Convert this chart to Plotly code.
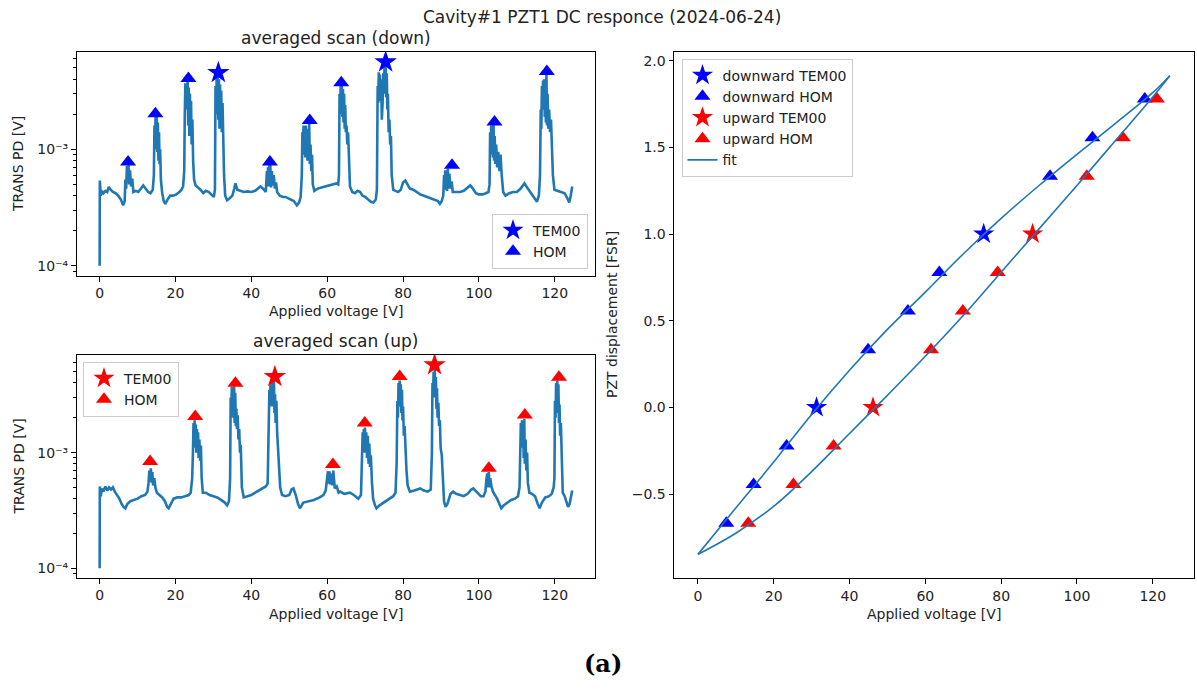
import plotly.graph_objects as go

W, H = 1197, 691
FONT = "DejaVu Sans"
TXT = "#222222"
C0 = "#1f77b4"

# ---------------- averaged scans: (applied voltage [V], TRANS PD [V]) ----------------
down_scan = [
    (0.0, 1.0e-4), (0.05, 5.4e-4), (0.3, 4.0e-4), (0.6, 4.4e-4), (1.0, 4.2e-4), (1.5, 4.4e-4),
    (2.0, 4.3e-4), (2.4, 4.75e-4), (2.9, 4.5e-4), (3.5, 4.3e-4), (4.2, 4.2e-4), (4.9, 4.0e-4),
    (5.6, 3.7e-4), (6.2, 3.3e-4), (6.6, 3.6e-4), (6.8, 5.5e-4), (7.0, 4.6e-4), (7.2, 7.2e-4),
    (7.4, 5.2e-4), (7.6, 7.5e-4), (7.8, 5.0e-4), (8.0, 6.6e-4), (8.3, 4.8e-4), (8.6, 5.6e-4),
    (8.9, 4.3e-4), (9.5, 4.4e-4), (10.2, 4.3e-4), (10.8, 4.6e-4), (11.5, 4.9e-4), (12.1, 4.6e-4),
    (12.8, 4.3e-4), (13.4, 4.2e-4), (14.0, 4.5e-4), (14.3, 6.0e-4), (14.45, 1.6e-3), (14.6, 1.0e-3),
    (14.75, 1.95e-3), (14.9, 1.1e-3), (15.05, 1.9e-3), (15.2, 9.5e-4), (15.35, 1.7e-3), (15.5, 8.0e-4),
    (15.65, 1.4e-3), (15.8, 7.5e-4), (15.95, 1.0e-3), (16.15, 5.5e-4), (16.5, 4.2e-4), (16.9, 3.6e-4),
    (17.3, 3.4e-4), (17.9, 3.7e-4), (18.6, 4.0e-4), (19.4, 4.0e-4), (20.2, 4.1e-4), (21.0, 4.3e-4),
    (21.6, 4.5e-4), (22.0, 4.8e-4), (22.3, 6.5e-4), (22.45, 2.0e-3), (22.6, 3.7e-3), (22.75, 2.2e-3),
    (22.9, 3.5e-3), (23.05, 2.5e-3), (23.2, 3.9e-3), (23.35, 1.6e-3), (23.5, 3.4e-3), (23.65, 1.3e-3),
    (23.8, 3.0e-3), (23.95, 1.5e-3), (24.1, 2.6e-3), (24.25, 1.1e-3), (24.45, 1.8e-3), (24.65, 8.0e-4),
    (24.9, 5.5e-4), (25.3, 4.9e-4), (26.0, 4.7e-4), (26.6, 4.5e-4), (27.3, 4.2e-4), (28.0, 4.4e-4),
    (28.8, 4.3e-4), (29.5, 4.1e-4), (30.1, 3.9e-4), (30.4, 4.5e-4), (30.55, 3.5e-3), (30.7, 2.0e-3),
    (30.85, 4.1e-3), (31.0, 2.2e-3), (31.15, 4.3e-3), (31.3, 1.8e-3), (31.45, 4.0e-3), (31.6, 1.5e-3),
    (31.75, 3.6e-3), (31.9, 1.7e-3), (32.05, 3.2e-3), (32.2, 1.4e-3), (32.4, 2.5e-3), (32.6, 1.0e-3),
    (32.8, 6.0e-4), (33.1, 4.0e-4), (33.6, 3.65e-4), (34.3, 3.8e-4), (35.0, 4.0e-4), (35.5, 4.6e-4),
    (35.8, 5.1e-4), (36.3, 4.5e-4), (37.1, 4.4e-4), (38.0, 4.3e-4), (39.0, 4.35e-4), (40.0, 4.3e-4),
    (41.0, 4.4e-4), (41.8, 4.6e-4), (42.4, 4.8e-4), (43.1, 4.6e-4), (43.8, 4.3e-4), (44.1, 6.5e-4),
    (44.25, 5.0e-4), (44.4, 7.0e-4), (44.55, 4.8e-4), (44.7, 7.3e-4), (44.85, 5.0e-4), (45.0, 7.4e-4),
    (45.2, 4.7e-4), (45.4, 6.5e-4), (45.65, 4.9e-4), (45.9, 6.0e-4), (46.2, 4.6e-4), (46.5, 5.2e-4),
    (46.8, 4.3e-4), (47.5, 4.0e-4), (48.3, 3.9e-4), (49.0, 3.9e-4), (49.8, 3.8e-4), (50.5, 3.7e-4),
    (51.2, 3.6e-4), (52.0, 3.3e-4), (52.6, 3.5e-4), (53.0, 3.9e-4), (53.3, 6.0e-4), (53.45, 1.4e-3),
    (53.6, 9.0e-4), (53.75, 1.6e-3), (53.9, 1.0e-3), (54.05, 1.55e-3), (54.2, 8.5e-4), (54.35, 1.6e-3),
    (54.5, 9.5e-4), (54.65, 1.5e-3), (54.8, 8.0e-4), (54.95, 1.4e-3), (55.1, 1.0e-3), (55.25, 1.7e-3),
    (55.4, 7.5e-4), (55.6, 1.1e-3), (55.8, 6.5e-4), (56.0, 9.0e-4), (56.2, 5.0e-4), (56.6, 4.4e-4),
    (57.5, 4.6e-4), (58.5, 4.7e-4), (59.5, 4.8e-4), (60.5, 4.9e-4), (61.5, 5.0e-4), (62.4, 5.1e-4),
    (62.9, 5.0e-4), (63.1, 6.0e-4), (63.25, 3.0e-3), (63.4, 2.0e-3), (63.55, 3.6e-3), (63.7, 2.2e-3),
    (63.85, 3.5e-3), (64.0, 1.9e-3), (64.15, 3.3e-3), (64.3, 1.7e-3), (64.45, 3.0e-3), (64.6, 1.5e-3),
    (64.75, 2.4e-3), (64.9, 1.4e-3), (65.1, 1.6e-3), (65.3, 1.1e-3), (65.5, 1.4e-3), (65.7, 7.0e-4),
    (66.0, 4.8e-4), (66.6, 4.3e-4), (67.3, 4.2e-4), (68.0, 4.4e-4), (68.7, 4.3e-4), (69.3, 4.0e-4),
    (70.0, 3.9e-4), (70.8, 3.7e-4), (71.5, 3.55e-4), (72.2, 3.5e-4), (72.8, 3.7e-4), (73.1, 4.5e-4),
    (73.3, 3.5e-3), (73.45, 2.5e-3), (73.6, 4.6e-3), (73.75, 3.0e-3), (73.9, 4.4e-3), (74.05, 2.6e-3),
    (74.2, 4.0e-3), (74.4, 1.8e-3), (74.6, 2.5e-3), (74.8, 4.5e-3), (74.95, 3.0e-3), (75.1, 5.1e-3),
    (75.25, 3.2e-3), (75.4, 5.4e-3), (75.55, 2.8e-3), (75.7, 4.5e-3), (75.85, 2.2e-3), (76.0, 3.0e-3),
    (76.2, 1.4e-3), (76.4, 1.8e-3), (76.6, 1.1e-3), (76.8, 1.3e-3), (77.0, 6.0e-4), (77.4, 4.5e-4),
    (78.0, 4.4e-4), (78.7, 4.3e-4), (79.4, 4.5e-4), (80.0, 5.2e-4), (80.6, 5.4e-4), (81.2, 5.0e-4),
    (81.8, 4.6e-4), (82.7, 4.5e-4), (83.6, 4.3e-4), (84.5, 4.1e-4), (85.5, 4.0e-4), (86.5, 3.9e-4),
    (87.5, 3.8e-4), (88.5, 3.7e-4), (89.2, 3.6e-4), (89.7, 3.4e-4), (90.2, 3.6e-4), (90.6, 4.0e-4),
    (90.8, 6.0e-4), (90.95, 4.6e-4), (91.1, 6.6e-4), (91.25, 4.5e-4), (91.4, 6.5e-4), (91.6, 4.4e-4),
    (91.8, 6.8e-4), (92.0, 4.6e-4), (92.2, 6.2e-4), (92.5, 4.6e-4), (92.8, 5.3e-4), (93.1, 4.3e-4),
    (94.0, 4.3e-4), (95.0, 4.3e-4), (96.0, 4.4e-4), (97.0, 4.7e-4), (97.7, 4.9e-4), (98.4, 4.6e-4),
    (99.2, 4.2e-4), (100.0, 4.1e-4), (101.0, 4.1e-4), (101.8, 4.2e-4), (102.5, 4.3e-4), (102.8, 5.0e-4),
    (102.95, 1.4e-3), (103.1, 9.0e-4), (103.25, 1.6e-3), (103.4, 1.0e-3), (103.55, 1.55e-3), (103.7, 8.5e-4),
    (103.85, 1.65e-3), (104.0, 8.0e-4), (104.15, 1.3e-3), (104.35, 7.5e-4), (104.55, 1.1e-3), (104.8, 7.0e-4),
    (105.1, 9.5e-4), (105.4, 6.5e-4), (105.7, 9.0e-4), (106.0, 6.0e-4), (106.4, 4.3e-4), (107.0, 4.0e-4),
    (108.0, 4.2e-4), (109.0, 4.3e-4), (110.0, 4.3e-4), (111.0, 4.6e-4), (112.0, 5.1e-4), (112.7, 4.7e-4),
    (113.5, 4.3e-4), (114.5, 3.9e-4), (115.3, 3.55e-4), (115.8, 4.0e-4), (116.1, 6.0e-4), (116.3, 2.2e-3),
    (116.45, 1.5e-3), (116.6, 3.5e-3), (116.75, 2.2e-3), (116.9, 3.9e-3), (117.05, 2.4e-3), (117.2, 4.0e-3),
    (117.35, 1.9e-3), (117.5, 3.6e-3), (117.65, 1.7e-3), (117.8, 4.4e-3), (117.95, 1.6e-3), (118.1, 3.0e-3),
    (118.3, 1.5e-3), (118.5, 2.2e-3), (118.75, 1.4e-3), (119.0, 1.8e-3), (119.25, 1.0e-3), (119.5, 6.0e-4),
    (119.9, 4.5e-4), (120.8, 4.4e-4), (121.8, 4.3e-4), (122.6, 4.2e-4), (123.3, 3.8e-4), (123.8, 3.5e-4),
    (124.2, 4.0e-4), (124.6, 4.8e-4),
]

up_scan = [
    (0.0, 1.0e-4), (0.05, 5.1e-4), (0.3, 4.2e-4), (0.6, 4.9e-4), (1.0, 4.6e-4), (1.5, 5.1e-4),
    (2.0, 4.7e-4), (2.5, 5.0e-4), (3.0, 4.8e-4), (3.5, 5.0e-4), (4.0, 4.6e-4), (4.6, 4.3e-4),
    (5.2, 4.0e-4), (5.8, 3.6e-4), (6.3, 3.4e-4), (6.8, 3.3e-4), (7.3, 3.6e-4), (8.1, 3.8e-4),
    (9.0, 3.9e-4), (10.0, 4.0e-4), (11.0, 4.2e-4), (12.0, 4.3e-4), (12.6, 4.6e-4), (12.9, 5.5e-4),
    (13.1, 7.0e-4), (13.3, 5.6e-4), (13.5, 7.3e-4), (13.7, 5.5e-4), (13.9, 6.8e-4), (14.1, 5.2e-4),
    (14.4, 6.0e-4), (14.7, 5.0e-4), (15.1, 4.5e-4), (15.8, 4.3e-4), (16.5, 4.1e-4), (17.2, 3.8e-4),
    (17.8, 3.4e-4), (18.2, 3.3e-4), (18.8, 3.6e-4), (19.5, 4.0e-4), (20.5, 4.1e-4), (21.5, 4.1e-4),
    (22.5, 4.2e-4), (23.5, 4.3e-4), (24.0, 4.5e-4), (24.4, 6.0e-4), (24.6, 1.0e-3), (24.75, 1.8e-3),
    (24.9, 1.1e-3), (25.05, 1.9e-3), (25.2, 1.2e-3), (25.35, 1.75e-3), (25.5, 1.0e-3), (25.65, 1.6e-3),
    (25.8, 1.0e-3), (25.95, 1.5e-3), (26.1, 9.0e-4), (26.3, 1.3e-3), (26.5, 8.5e-4), (26.7, 1.15e-3),
    (26.9, 6.0e-4), (27.2, 4.5e-4), (28.0, 4.5e-4), (29.0, 4.3e-4), (30.0, 4.2e-4), (31.0, 4.1e-4),
    (32.0, 3.9e-4), (33.0, 3.7e-4), (33.6, 3.5e-4), (34.1, 3.8e-4), (34.4, 6.0e-4), (34.55, 3.0e-3),
    (34.7, 2.0e-3), (34.85, 3.7e-3), (35.0, 2.2e-3), (35.15, 3.6e-3), (35.3, 2.0e-3), (35.45, 3.75e-3),
    (35.6, 1.8e-3), (35.75, 3.3e-3), (35.9, 1.7e-3), (36.05, 2.4e-3), (36.2, 1.6e-3), (36.4, 2.1e-3),
    (36.6, 1.3e-3), (36.8, 1.6e-3), (37.0, 1.0e-3), (37.2, 1.17e-3), (37.5, 5.0e-4), (38.0, 4.1e-4),
    (39.0, 4.2e-4), (40.0, 4.3e-4), (41.0, 4.5e-4), (42.0, 4.7e-4), (43.0, 4.9e-4), (43.8, 5.1e-4),
    (44.3, 5.4e-4), (44.6, 1.5e-3), (44.75, 3.5e-3), (44.9, 2.5e-3), (45.05, 3.85e-3), (45.2, 2.7e-3),
    (45.35, 4.0e-3), (45.5, 2.5e-3), (45.65, 4.1e-3), (45.8, 2.6e-3), (45.95, 4.2e-3), (46.1, 2.2e-3),
    (46.25, 3.2e-3), (46.4, 1.8e-3), (46.6, 2.8e-3), (46.8, 1.5e-3), (47.0, 1.2e-3), (47.3, 7.0e-4),
    (47.6, 5.0e-4), (48.1, 4.3e-4), (49.0, 4.2e-4), (50.0, 4.3e-4), (50.6, 4.8e-4), (51.1, 4.9e-4),
    (51.7, 4.3e-4), (52.3, 3.6e-4), (52.8, 3.3e-4), (53.7, 3.7e-4), (55.0, 3.8e-4), (56.5, 3.9e-4),
    (58.0, 4.1e-4), (59.0, 4.3e-4), (59.6, 4.7e-4), (60.0, 6.0e-4), (60.2, 6.9e-4), (60.4, 5.4e-4),
    (60.6, 6.9e-4), (60.8, 5.3e-4), (61.0, 6.6e-4), (61.3, 5.2e-4), (61.6, 7.0e-4), (62.0, 4.9e-4),
    (62.5, 5.1e-4), (63.0, 4.5e-4), (63.4, 4.6e-4), (64.5, 4.4e-4), (65.5, 4.5e-4), (66.0, 4.5e-4),
    (67.0, 4.3e-4), (68.2, 4.0e-4), (68.9, 4.3e-4), (69.2, 1.1e-3), (69.35, 1.5e-3), (69.5, 1.0e-3),
    (69.65, 1.6e-3), (69.8, 1.1e-3), (69.95, 1.65e-3), (70.1, 1.0e-3), (70.3, 1.5e-3), (70.5, 9.0e-4),
    (70.7, 1.4e-3), (70.9, 8.0e-4), (71.1, 1.2e-3), (71.3, 7.5e-4), (71.5, 9.5e-4), (71.8, 5.5e-4),
    (72.1, 4.0e-4), (72.6, 3.5e-4), (73.0, 3.3e-4), (73.8, 3.5e-4), (75.0, 3.7e-4), (76.5, 4.0e-4),
    (77.4, 4.2e-4), (78.0, 4.5e-4), (78.3, 8.0e-4), (78.5, 2.8e-3), (78.65, 2.0e-3), (78.8, 4.0e-3),
    (78.95, 2.5e-3), (79.1, 4.2e-3), (79.25, 2.8e-3), (79.4, 3.9e-3), (79.55, 2.2e-3), (79.7, 3.5e-3),
    (79.85, 1.9e-3), (80.0, 2.5e-3), (80.2, 1.4e-3), (80.4, 1.7e-3), (80.6, 1.0e-3), (80.9, 7.0e-4),
    (81.2, 5.2e-4), (81.8, 4.6e-4), (83.0, 4.7e-4), (84.0, 4.8e-4), (84.5, 4.9e-4), (85.5, 4.7e-4),
    (86.5, 4.6e-4), (87.3, 4.8e-4), (87.6, 1.0e-3), (87.75, 4.0e-3), (87.9, 3.0e-3), (88.05, 5.0e-3),
    (88.2, 3.5e-3), (88.35, 5.3e-3), (88.5, 3.0e-3), (88.65, 4.5e-3), (88.8, 2.4e-3), (88.95, 3.6e-3),
    (89.1, 2.0e-3), (89.3, 2.7e-3), (89.5, 1.7e-3), (89.7, 1.9e-3), (89.9, 1.1e-3), (90.2, 9.5e-4),
    (90.5, 5.5e-4), (90.8, 3.8e-4), (91.2, 3.4e-4), (91.7, 3.6e-4), (92.5, 4.4e-4), (93.2, 4.6e-4),
    (94.0, 4.4e-4), (95.0, 4.3e-4), (96.0, 4.2e-4), (97.0, 4.4e-4), (98.0, 4.8e-4), (98.5, 4.9e-4),
    (99.5, 4.5e-4), (100.5, 4.2e-4), (101.2, 4.2e-4), (101.7, 4.6e-4), (102.0, 6.0e-4), (102.2, 6.6e-4),
    (102.4, 5.0e-4), (102.6, 6.8e-4), (102.8, 5.0e-4), (103.0, 6.0e-4), (103.3, 5.1e-4), (103.7, 4.6e-4),
    (104.2, 4.3e-4), (104.8, 4.0e-4), (105.4, 3.6e-4), (105.9, 3.3e-4), (106.5, 3.5e-4), (107.5, 3.7e-4),
    (108.5, 3.9e-4), (109.5, 4.0e-4), (110.3, 4.2e-4), (110.7, 5.0e-4), (110.9, 1.2e-3), (111.05, 1.8e-3),
    (111.2, 1.2e-3), (111.35, 1.9e-3), (111.5, 1.1e-3), (111.65, 1.75e-3), (111.8, 9.0e-4), (111.95, 1.95e-3),
    (112.1, 8.0e-4), (112.3, 1.3e-3), (112.5, 7.0e-4), (112.7, 1.0e-3), (112.9, 5.5e-4), (113.3, 4.5e-4),
    (114.0, 4.4e-4), (114.8, 4.2e-4), (115.5, 3.6e-4), (116.0, 3.3e-4), (116.6, 3.7e-4), (117.5, 4.1e-4),
    (118.5, 4.2e-4), (119.2, 4.4e-4), (119.7, 5.0e-4), (119.9, 6.0e-4), (120.05, 2.8e-3), (120.2, 2.0e-3),
    (120.35, 4.0e-3), (120.5, 2.6e-3), (120.65, 4.2e-3), (120.8, 2.2e-3), (120.95, 3.9e-3), (121.1, 1.8e-3),
    (121.25, 2.6e-3), (121.4, 1.4e-3), (121.6, 1.8e-3), (121.8, 9.0e-4), (122.1, 4.5e-4), (122.6, 4.2e-4),
    (123.1, 3.8e-4), (123.5, 3.4e-4), (123.9, 3.6e-4), (124.3, 4.2e-4), (124.6, 4.7e-4),
]

# ---------------- resonances picked on each scan ----------------
down_tem_v = [31.3, 75.4]
down_tem_pd = [4.55e-3, 5.62e-3]
down_hom_v = [7.5, 14.7, 23.4, 44.9, 55.4, 63.7, 92.9, 104.1, 117.9]
down_hom_pd = [7.8e-4, 2.02e-3, 4.05e-3, 7.8e-4, 1.77e-3, 3.73e-3, 7.3e-4, 1.72e-3, 4.65e-3]

up_tem_v = [46.2, 88.3]
up_tem_pd = [4.54e-3, 5.73e-3]
up_hom_v = [13.3, 25.2, 35.8, 61.5, 69.9, 79.1, 102.6, 112.1, 121.1]
up_hom_pd = [8.4e-4, 2.05e-3, 3.98e-3, 7.9e-4, 1.8e-3, 4.54e-3, 7.33e-4, 2.12e-3, 4.48e-3]

# displacement assigned to each resonance [FSR]
tem_disp = [0.0, 1.0]
hom_disp = [-0.667, -0.444, -0.222, 0.333, 0.556, 0.778, 1.333, 1.556, 1.778]

# hysteresis fit, one branch per sweep direction
fit_v = [0, 10, 20, 30, 40, 50, 60, 70, 80, 90, 100, 110, 120, 124.5]
fit_down = [-0.847, -0.58, -0.315, -0.04, 0.215, 0.45, 0.665, 0.885, 1.09, 1.28, 1.46, 1.635, 1.815, 1.913]
fit_up = [-0.847, -0.725, -0.57, -0.37, -0.15, 0.07, 0.295, 0.53, 0.78, 1.03, 1.28, 1.535, 1.79, 1.913]

# tick positions and labels
log_major = [1e-4, 1e-3]
log_major_text = ["10\u207b\u2074", "10\u207b\u00b3"]
log_minor = [9e-5] + [k * 1e-4 for k in range(2, 10)] + [k * 1e-3 for k in range(2, 7)]
volt_ticks = [0, 20, 40, 60, 80, 100, 120]
disp_ticks = [-0.5, 0.0, 0.5, 1.0, 1.5, 2.0]
disp_text = ["\u22120.5", "0.0", "0.5", "1.0", "1.5", "2.0"]

down_v, down_pd = [p[0] for p in down_scan], [p[1] for p in down_scan]
up_v, up_pd = [p[0] for p in up_scan], [p[1] for p in up_scan]


def px(x):
    return x / W


def py(y):
    return 1 - y / H


fig = go.Figure()

# --- top left: downward scan ---
fig.add_trace(go.Scatter(x=down_v, y=down_pd, mode="lines", line=dict(color=C0, width=2.6),
                         showlegend=False, xaxis="x", yaxis="y"))
fig.add_trace(go.Scatter(x=down_tem_v, y=down_tem_pd, mode="markers", name="TEM00",
                         marker=dict(symbol="star", size=17, color="blue", line=dict(width=0)),
                         xaxis="x", yaxis="y", legend="legend"))
fig.add_trace(go.Scatter(x=down_hom_v, y=down_hom_pd, mode="markers", name="HOM",
                         marker=dict(symbol="triangle-up", size=14, color="blue", line=dict(width=0)),
                         xaxis="x", yaxis="y", legend="legend"))

# --- bottom left: upward scan ---
fig.add_trace(go.Scatter(x=up_v, y=up_pd, mode="lines", line=dict(color=C0, width=2.6),
                         showlegend=False, xaxis="x2", yaxis="y2"))
fig.add_trace(go.Scatter(x=up_tem_v, y=up_tem_pd, mode="markers", name="TEM00",
                         marker=dict(symbol="star", size=17, color="red", line=dict(width=0)),
                         xaxis="x2", yaxis="y2", legend="legend2"))
fig.add_trace(go.Scatter(x=up_hom_v, y=up_hom_pd, mode="markers", name="HOM",
                         marker=dict(symbol="triangle-up", size=14, color="red", line=dict(width=0)),
                         xaxis="x2", yaxis="y2", legend="legend2"))

# --- right: displacement vs voltage ---
fig.add_trace(go.Scatter(x=down_tem_v, y=tem_disp, mode="markers", name="downward TEM00",
                         marker=dict(symbol="star", size=16, color="blue", line=dict(width=0)),
                         xaxis="x3", yaxis="y3", legend="legend3"))
fig.add_trace(go.Scatter(x=down_hom_v, y=hom_disp, mode="markers", name="downward HOM",
                         marker=dict(symbol="triangle-up", size=14, color="blue", line=dict(width=0)),
                         xaxis="x3", yaxis="y3", legend="legend3"))
fig.add_trace(go.Scatter(x=up_tem_v, y=tem_disp, mode="markers", name="upward TEM00",
                         marker=dict(symbol="star", size=16, color="red", line=dict(width=0)),
                         xaxis="x3", yaxis="y3", legend="legend3"))
fig.add_trace(go.Scatter(x=up_hom_v, y=hom_disp, mode="markers", name="upward HOM",
                         marker=dict(symbol="triangle-up", size=14, color="red", line=dict(width=0)),
                         xaxis="x3", yaxis="y3", legend="legend3"))
fig.add_trace(go.Scatter(x=fit_v, y=fit_down, mode="lines", name="fit",
                         line=dict(color=C0, width=1.6, shape="spline", smoothing=1.0),
                         xaxis="x3", yaxis="y3", legend="legend3"))
fig.add_trace(go.Scatter(x=fit_v, y=fit_up, mode="lines", name="fit", showlegend=False,
                         line=dict(color=C0, width=1.6, shape="spline", smoothing=1.0),
                         xaxis="x3", yaxis="y3", legend="legend3"))

tickfont = dict(family=FONT, size=14, color=TXT)
common_x = dict(showgrid=False, zeroline=False, showline=True, mirror=True, linecolor="black",
                linewidth=1, ticks="outside", ticklen=4.5, tickwidth=1, tickcolor="black",
                tickfont=tickfont, tickvals=volt_ticks, ticktext=[str(t) for t in volt_ticks])
log_y = dict(type="log", showgrid=False, zeroline=False, showline=True, mirror=True,
             linecolor="black", linewidth=1, ticks="outside", ticklen=4.5, tickwidth=1,
             tickcolor="black", tickfont=tickfont, tickmode="array", tickvals=log_major,
             ticktext=log_major_text,
             minor=dict(tickmode="array", tickvals=log_minor, ticks="outside", ticklen=2.5,
                        tickwidth=0.8, tickcolor="black", showgrid=False))

legend_common = dict(font=dict(family=FONT, size=14, color=TXT), bgcolor="rgba(255,255,255,0.8)",
                     bordercolor="#cccccc", borderwidth=1, itemsizing="trace")

fig.update_layout(
    width=W, height=H, margin=dict(l=0, r=0, t=0, b=0),
    paper_bgcolor="white", plot_bgcolor="white",
    font=dict(family=FONT, size=14, color=TXT),
    xaxis=dict(domain=[px(76.5), px(595)], range=[-6.1, 130.6], anchor="y", **common_x),
    yaxis=dict(domain=[py(276), py(52)], range=[-4.088, -2.164], anchor="x", **log_y),
    xaxis2=dict(domain=[px(76.5), px(595)], range=[-6.1, 130.6], anchor="y2", **common_x),
    yaxis2=dict(domain=[py(578), py(355)], range=[-4.084, -2.156], anchor="x2", **log_y),
    xaxis3=dict(domain=[px(674), px(1193.5)], range=[-6.3, 130.75], anchor="y3", **common_x),
    yaxis3=dict(domain=[py(578.3), py(52.3)], range=[-0.985, 2.048], anchor="x3",
                showgrid=False, zeroline=False, showline=True, mirror=True, linecolor="black",
                linewidth=1, ticks="outside", ticklen=4.5, tickwidth=1, tickcolor="black",
                tickfont=tickfont, tickmode="array", tickvals=disp_ticks, ticktext=disp_text),
    legend=dict(x=px(588), y=py(268.5), xanchor="right", yanchor="bottom", **legend_common),
    legend2=dict(x=px(83), y=py(361.5), xanchor="left", yanchor="top", **legend_common),
    legend3=dict(x=px(681.5), y=py(58.5), xanchor="left", yanchor="top", **legend_common),
)

texts = [
    ("Cavity#1 PZT1 DC responce (2024-06-24)", 602, 17, 17, 0),
    ("averaged scan (down)", 335.8, 38, 17, 0),
    ("averaged scan (up)", 335.8, 341, 17, 0),
    ("Applied voltage [V]", 335.8, 311, 14, 0),
    ("Applied voltage [V]", 335.8, 614, 14, 0),
    ("Applied voltage [V]", 933.7, 614, 14, 0),
    ("TRANS PD [V]", 18, 164, 14, -90),
    ("TRANS PD [V]", 18, 466.5, 14, -90),
    ("PZT displacement [FSR]", 612, 315, 14, -90),
]
for text, x, y, size, angle in texts:
    fig.add_annotation(text=text, x=px(x), y=py(y), xref="paper", yref="paper",
                       xanchor="center", yanchor="middle", showarrow=False, textangle=angle,
                       font=dict(family=FONT, size=size, color=TXT))

fig.add_annotation(text="<b>(a)</b>", x=px(603), y=py(663), xref="paper", yref="paper",
                   xanchor="center", yanchor="middle", showarrow=False,
                   font=dict(family="DejaVu Serif", size=24, color="black"))

fig.write_html("out.html")
